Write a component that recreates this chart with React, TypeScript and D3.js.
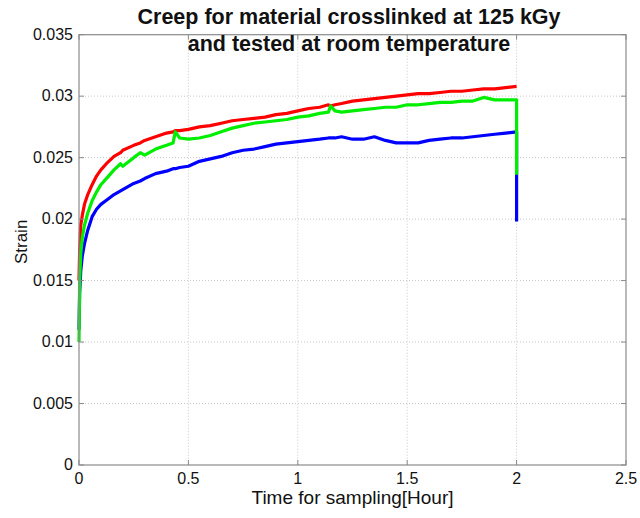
import React from "react";
import * as d3 from "d3";

const timeHours = [0, 0.003, 0.008, 0.015, 0.025, 0.04, 0.06, 0.08, 0.1, 0.13, 0.16, 0.19, 0.2, 0.25, 0.28, 0.3, 0.35, 0.4, 0.43, 0.44, 0.46, 0.5, 0.55, 0.6, 0.65, 0.7, 0.75, 0.8, 0.85, 0.9, 0.95, 1.0, 1.05, 1.1, 1.14, 1.15, 1.17, 1.2, 1.25, 1.3, 1.35, 1.4, 1.45, 1.5, 1.55, 1.6, 1.65, 1.7, 1.75, 1.8, 1.85, 1.9, 1.95, 2.0];

const redStrain = [0.0150, 0.0175, 0.0195, 0.0203, 0.0212, 0.0220, 0.0228, 0.0235, 0.0240, 0.0246, 0.0251, 0.0254, 0.0256, 0.0260, 0.0262, 0.0264, 0.0267, 0.0270, 0.0271, 0.0272, 0.0272, 0.0273, 0.0275, 0.0276, 0.0278, 0.0280, 0.0281, 0.0282, 0.0283, 0.0285, 0.0286, 0.0288, 0.0290, 0.0291, 0.0293, 0.0292, 0.0293, 0.0294, 0.0296, 0.0297, 0.0298, 0.0299, 0.0300, 0.0301, 0.0302, 0.0302, 0.0303, 0.0304, 0.0304, 0.0305, 0.0306, 0.0306, 0.0307, 0.0308];

const greenStrain = [0.0100, 0.0150, 0.0172, 0.0185, 0.0195, 0.0205, 0.0215, 0.0222, 0.0228, 0.0234, 0.0240, 0.0245, 0.0243, 0.0250, 0.0254, 0.0252, 0.0257, 0.0260, 0.0262, 0.0271, 0.0266, 0.0265, 0.0266, 0.0268, 0.0271, 0.0274, 0.0276, 0.0278, 0.0279, 0.0280, 0.0281, 0.0283, 0.0284, 0.0286, 0.0287, 0.0292, 0.0288, 0.0287, 0.0288, 0.0289, 0.0290, 0.0291, 0.0291, 0.0293, 0.0293, 0.0294, 0.0295, 0.0295, 0.0296, 0.0296, 0.0299, 0.0297, 0.0297, 0.0297];

const blueStrain = [0.0110, 0.0140, 0.0158, 0.0170, 0.0180, 0.0191, 0.0202, 0.0208, 0.0212, 0.0216, 0.0220, 0.0223, 0.0224, 0.0229, 0.0231, 0.0233, 0.0237, 0.0239, 0.0241, 0.0241, 0.0242, 0.0243, 0.0247, 0.0249, 0.0251, 0.0254, 0.0256, 0.0257, 0.0259, 0.0261, 0.0262, 0.0263, 0.0264, 0.0265, 0.0266, 0.0266, 0.0266, 0.0267, 0.0265, 0.0265, 0.0267, 0.0264, 0.0262, 0.0262, 0.0262, 0.0264, 0.0265, 0.0266, 0.0266, 0.0267, 0.0268, 0.0269, 0.0270, 0.0271];

// final unloading drop at t = 2 h
const endDropGreen = 0.0236;
const endDropBlue = 0.0198;

const xTicks = [0, 0.5, 1, 1.5, 2, 2.5];
const xTickLabels = ["0", "0.5", "1", "1.5", "2", "2.5"];
const yTicks = [0, 0.005, 0.01, 0.015, 0.02, 0.025, 0.03, 0.035];
const yTickLabels = ["0", "0.005", "0.01", "0.015", "0.02", "0.025", "0.03", "0.035"];

const titleLines = ["Creep for material crosslinked at 125 kGy", "and tested at room temperature"];
const xLabel = "Time for sampling[Hour]";
const yLabel = "Strain";

export default function App() {
  const W = 640, H = 518;
  const left = 79, right = 626, top = 34.7, bottom = 465;
  const x = d3.scaleLinear().domain([0, 2.5]).range([left, right]);
  const y = d3.scaleLinear().domain([0, 0.035]).range([bottom, top]);
  const line = d3.line<[number, number]>().x(d => x(d[0])).y(d => y(d[1]));

  const mk = (vals: number[], drop?: number): [number, number][] => {
    const pts: [number, number][] = timeHours.map((t, i) => [t, vals[i]]);
    if (drop !== undefined) pts.push([timeHours[timeHours.length - 1], drop]);
    return pts;
  };

  const series = [
    { pts: mk(blueStrain, endDropBlue), color: "#0000ff" },
    { pts: mk(redStrain), color: "#ff0000" },
    { pts: mk(greenStrain, endDropGreen), color: "#00ee00" },
  ];

  const font = "Liberation Sans, Arial, sans-serif";
  const tickLen = 5;

  return (
    <svg width={W} height={H} style={{ position: "absolute", left: 0, top: 0, background: "#fff" }} fontFamily={font}>
      <rect x={0} y={0} width={W} height={H} fill="#fff" />
      {xTicks.slice(1, -1).map((t) => (
        <line key={"gx" + t} x1={x(t)} x2={x(t)} y1={top} y2={bottom} stroke="#c8c8c8" strokeWidth={1} strokeDasharray="1,2" />
      ))}
      {yTicks.slice(1, -1).map((t) => (
        <line key={"gy" + t} x1={left} x2={right} y1={y(t)} y2={y(t)} stroke="#c8c8c8" strokeWidth={1} strokeDasharray="1,2" />
      ))}
      {series.map((s, i) => (
        <path key={i} d={line(s.pts) || ""} fill="none" stroke={s.color} strokeWidth={3.2} strokeLinejoin="round" />
      ))}
      <rect x={left} y={top} width={right - left} height={bottom - top} fill="none" stroke="#8a8a8a" strokeWidth={1.2} />
      {xTicks.map((t) => (
        <g key={"tx" + t}>
          <line x1={x(t)} x2={x(t)} y1={bottom} y2={bottom - tickLen} stroke="#8a8a8a" />
          <line x1={x(t)} x2={x(t)} y1={top} y2={top + tickLen} stroke="#8a8a8a" />
        </g>
      ))}
      {yTicks.map((t) => (
        <g key={"ty" + t}>
          <line x1={left} x2={left + tickLen} y1={y(t)} y2={y(t)} stroke="#8a8a8a" />
          <line x1={right} x2={right - tickLen} y1={y(t)} y2={y(t)} stroke="#8a8a8a" />
        </g>
      ))}
      {xTicks.map((t, i) => (
        <text key={"lx" + t} x={x(t)} y={bottom + 19} textAnchor="middle" fontSize={16} fill="#111">{xTickLabels[i]}</text>
      ))}
      {yTicks.map((t, i) => (
        <text key={"ly" + t} x={left - 6} y={y(t) + 5} textAnchor="end" fontSize={16} fill="#111">{yTickLabels[i]}</text>
      ))}
      <text x={(left + right) / 2} y={504} textAnchor="middle" fontSize={19} fill="#111">{xLabel}</text>
      <text transform={`translate(27,${(top + bottom) / 2 - 8}) rotate(-90)`} textAnchor="middle" fontSize={17} fill="#111">{yLabel}</text>
      <text x={349} y={24} textAnchor="middle" fontSize={21.5} fontWeight="bold" fill="#111">{titleLines[0]}</text>
      <text x={349} y={51} textAnchor="middle" fontSize={21.5} fontWeight="bold" fill="#111">{titleLines[1]}</text>
    </svg>
  );
}
